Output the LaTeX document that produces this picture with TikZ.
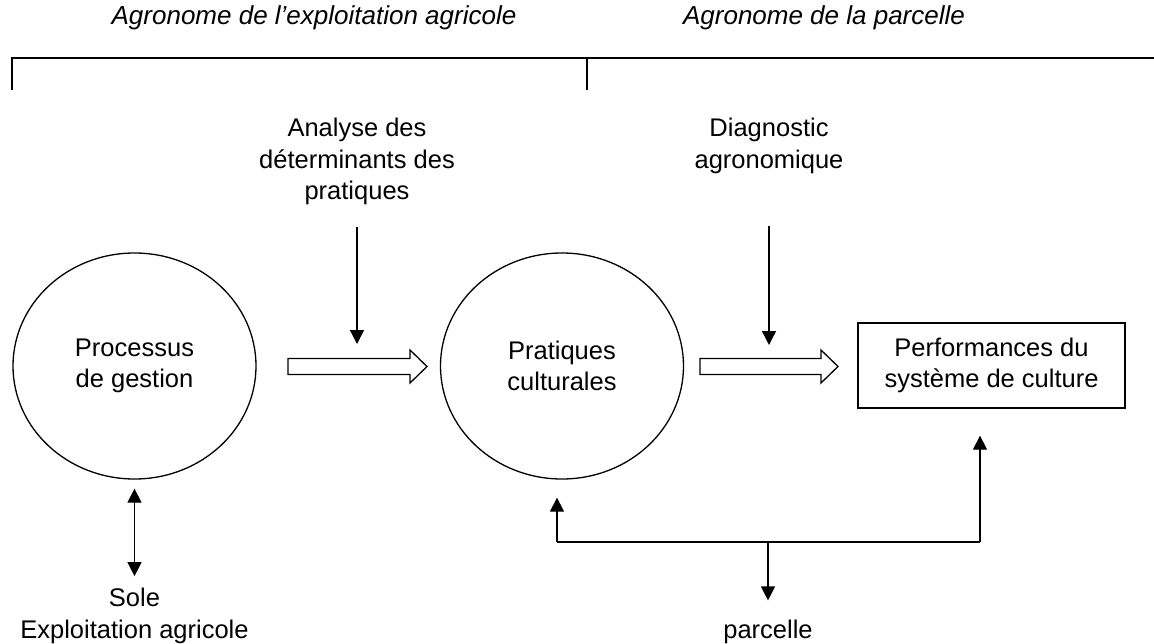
\documentclass[tikz,border=0pt]{standalone}
\usepackage{fontspec}
\setmainfont{Liberation Sans}
\usetikzlibrary{arrows.meta,shapes.geometric}
\tikzset{
  txt/.style={inner sep=0pt, align=center, font=\fontsize{25.5}{31.5}\selectfont},
  toplbl/.style={inner sep=0pt, font=\fontsize{26}{31}\selectfont\itshape},
  oval/.style={ellipse, draw, line width=1.3pt, minimum width=243pt, minimum height=226pt, inner sep=0pt, align=center, font=\fontsize{25.5}{31.5}\selectfont},
  boxnode/.style={rectangle, draw, line width=1.3pt, minimum width=267pt, minimum height=85pt, inner sep=0pt, align=center, font=\fontsize{25.5}{31.5}\selectfont},
  conn/.style={line width=1.3pt},
  arr/.style={conn, -{Triangle[length=14pt,width=14pt]}},
  darr/.style={conn, {Triangle[length=14pt,width=14pt]}-{Triangle[length=14pt,width=14pt]}},
  hollow/.style={draw, line width=1.3pt, fill=white, line join=miter},
  brk/.style={line width=2pt}
}
\begin{document}
\begin{tikzpicture}[x=1pt,y=-1pt]
\useasboundingbox (0,0) rectangle (1154,643);

% top labels and bracket
\node[toplbl] (lexp) at (314,18) {Agronome de l’exploitation agricole};
\node[toplbl] (lpar) at (824,18) {Agronome de la parcelle};
\coordinate (bA) at (12,90);
\coordinate (bB) at (12,58);
\coordinate (bC) at (1154,58);
\coordinate (bM) at (587,58);
\coordinate (bMd) at (587,90);
\draw[brk] (bA) -- (bB) -- (bC);
\draw[brk] (bM) -- (bMd);

% main nodes
\node[oval] (c1) at (134.5,366) {Processus\\de gestion};
\node[oval] (c2) at (562,366) {Pratiques\\culturales};
\node[boxnode] (box) at (991.5,365.5) {Performances du\\système de culture};

% labels
\node[txt] (ana) at (357,161.5) {Analyse des\\déterminants des\\pratiques};
\node[txt] (diag) at (769,146) {Diagnostic\\agronomique};
\node[txt] (sole) at (134.5,616) {Sole\\Exploitation agricole};
\node[txt] (parc) at (768,631.5) {parcelle};

% hollow arrows
\draw[hollow] (288,358.5) -- (410,358.5) -- (410,350) -- (427,366.5) -- (410,383) -- (410,374.5) -- (288,374.5) -- cycle;
\draw[hollow] (700,358.5) -- (821,358.5) -- (821,350) -- (838,366.5) -- (821,383) -- (821,374.5) -- (700,374.5) -- cycle;

% down arrows
\coordinate (d1) at (357,344);
\coordinate (d2) at (769,345);
\draw[arr, shorten <=22pt] (ana.south) -- (d1);
\draw[arr, shorten <=52pt] (diag.south) -- (d2);

% sole double arrow
\draw[darr, shorten <=9pt, shorten >=12pt] (c1.south) -- (sole.north);

% feedback loop
\coordinate (fbL) at (557,542);
\coordinate (fbR) at (980,542);
\coordinate (fbM) at (768,542);
\draw[conn] (fbL) -- (fbR);
\draw[arr, shorten >=18pt] (fbL) -- (fbL |- c2.south);
\draw[arr, shorten >=27pt] (fbR) -- (fbR |- box.south);
\draw[arr, shorten >=19pt] (fbM) -- (parc.north);
\end{tikzpicture}
\end{document}
